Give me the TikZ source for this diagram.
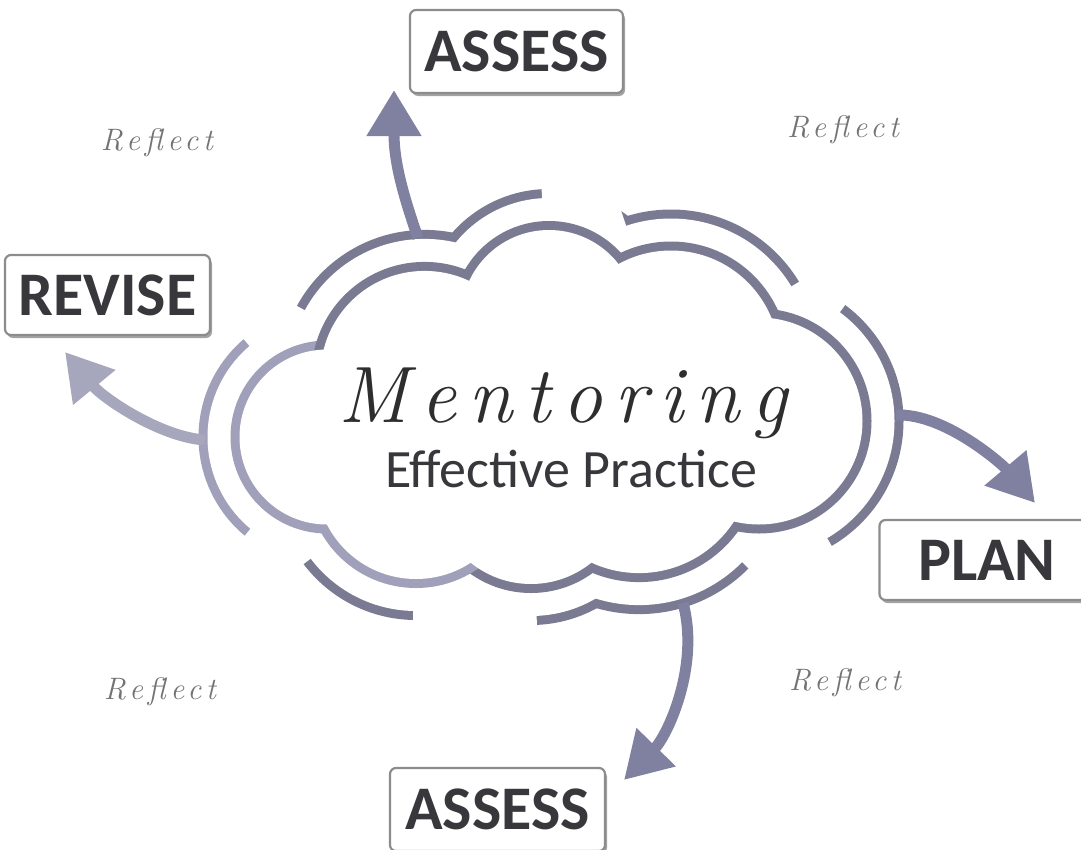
\documentclass[tikz,border=0pt]{standalone}
\usepackage{fontspec}
\setmainfont{Latin Modern Roman}
\newfontfamily\boxfont{Carlito}
\newfontfamily\mentfont{Latin Modern Roman}[LetterSpace=15]
\usetikzlibrary{calc,arrows.meta,shadows}
\definecolor{ringc}{RGB}{122,122,146}
\definecolor{ringl}{RGB}{160,160,186}
\definecolor{arrc}{RGB}{128,128,160}
\definecolor{txtc}{RGB}{55,55,60}
\tikzset{
  boxst/.style={draw=black!45, line width=2.2pt, rounded corners=6pt, fill=white,
    font=\boxfont\bfseries\fontsize{62}{62}\selectfont, text=txtc, inner sep=0pt,
    text height=40pt, text depth=0pt,
    drop shadow={shadow xshift=2pt, shadow yshift=-3pt, fill=black!60, opacity=0.6}},
  reflect/.style={font=\mentfont\itshape\fontsize{31}{31}\selectfont, text=black!55},
  arrst/.style={arrc, line width=11pt, -{Triangle[length=46pt,width=52pt]}},
  eraser/.style={fill=white}
}
\begin{document}
\begin{tikzpicture}[x=1pt,y=-1pt]
\useasboundingbox (0,0) rectangle (1081,849);
% bump centres (screen coordinates)
\coordinate (cL)  at (327,437);
\coordinate (cTL) at (424.6,375);
\coordinate (cTM) at (549,318);
\coordinate (cTR) at (671,359);
\coordinate (cR)  at (759,421);
\coordinate (cBR) at (639,460);
\coordinate (cBM) at (531,488);
\coordinate (cBL) at (416,479);
% ---- outer broken ring ----
\foreach \c/\r/\col in {cL/119.5/ringl, cTL/136.1/ringc, cTM/120/ringc, cTR/140.5/ringc,
   cR/135.5/ringc, cBR/145.1/ringc, cBM/128/ringc, cBL/132/ringc}
  {\draw[\col, line width=18pt] (\c) circle[radius=\r];}
\foreach \c/\r in {cL/119.5, cTL/136.1, cTM/120, cTR/140.5, cR/135.5, cBR/145.1, cBM/128, cBL/132}
  {\fill[white] (\c) circle[radius=\r];}
% gaps in the outer ring
\fill[eraser] ($(cL)+(-130.4:95)$) -- ($(cL)+(-130.4:175)$) -- ($(cTL)+(-151.6:185)$) -- ($(cTL)+(-151.6:110)$) -- cycle;
\fill[eraser] ($(cTM)+(-93.3:100)$) -- ($(cTM)+(-93.3:175)$) -- ($(cTR)+(-108.6:195)$) -- ($(cTR)+(-108.6:120)$) -- cycle;
\fill[eraser] ($(cTR)+(-31.1:115)$) -- ($(cTR)+(-31.1:195)$) -- ($(cR)+(-53.4:195)$) -- ($(cR)+(-53.4:110)$) -- cycle;
\fill[eraser] ($(cR)+(59.8:110)$) -- ($(cR)+(59.8:190)$) -- ($(cBR)+(44.7:200)$) -- ($(cBR)+(44.7:125)$) -- cycle;
\fill[eraser] ($(cBM)+(87.5:110)$) -- ($(cBM)+(87.5:190)$) -- ($(cBL)+(91.2:190)$) -- ($(cBL)+(91.2:115)$) -- cycle;
\fill[eraser] ($(cBL)+(142.9:115)$) -- ($(cBL)+(142.9:190)$) -- ($(cL)+(129.8:180)$) -- ($(cL)+(129.8:100)$) -- cycle;
% ---- inner cloud ----
\foreach \c/\r/\col in {cL/87.5/ringl, cTL/104.1/ringc, cTM/88/ringc, cTR/108.5/ringc,
   cR/103.5/ringc, cBR/113.1/ringc, cBM/96/ringc, cBL/100/ringl}
  {\draw[\col, line width=18pt] (\c) circle[radius=\r];}
\foreach \c/\r in {cL/87.5, cTL/104.1, cTM/88, cTR/108.5, cR/103.5, cBR/113.1, cBM/96, cBL/100}
  {\fill[white] (\c) circle[radius=\r];}
\fill[white] (335,354) -- (469,290) -- (618,273) -- (762,323) -- (720,514) -- (590,553) -- (472,553) -- (338,518) -- cycle;
% ---- texts in the cloud ----
\node[anchor=base, font=\mentfont\itshape\fontsize{80}{80}\selectfont, text=black!82] (ment) at (563,422) {Mentoring};
\node[anchor=base, font=\boxfont\fontsize{54}{54}\selectfont, text=txtc] (eff) at (571,487) {Effective Practice};
% ---- boxes ----
\node[boxst, minimum width=213pt, minimum height=83pt] (assessT) at (516.5,51.5) {ASSESS};
\node[boxst, minimum width=205pt, minimum height=80pt] (revise) at (107.5,295) {REVISE};
\node[boxst, minimum width=215pt, minimum height=80pt] (plan) at (987,560) {PLAN};
\node[boxst, minimum width=215pt, minimum height=83pt] (assessB) at (497.5,809.5) {ASSESS};
% ---- arrows ----
\coordinate (a1s) at (418,238); \coordinate (a1e) at (394,90);
\coordinate (a2s) at (205,440); \coordinate (a2e) at (65,352);
\coordinate (a3s) at (896,415); \coordinate (a3e) at (1035,503);
\coordinate (a4s) at (683,603); \coordinate (a4e) at (624,780);
\draw[arrst] (a1s) .. controls (405,200) and (394,165) .. (a1e);
\draw[arrst, arrc!70!white] (a2s) .. controls (160,437) and (103,398) .. (a2e);
\draw[arrst] (a3s) .. controls (945,413) and (1003,465) .. (a3e);
\draw[arrst] (a4s) .. controls (700,665) and (668,735) .. (a4e);
% ---- reflect labels ----
\node[reflect] (r1) at (157,143) {Reflect};
\node[reflect] (r2) at (843,130) {Reflect};
\node[reflect] (r3) at (160,692) {Reflect};
\node[reflect] (r4) at (845,683) {Reflect};
\end{tikzpicture}
\end{document}
